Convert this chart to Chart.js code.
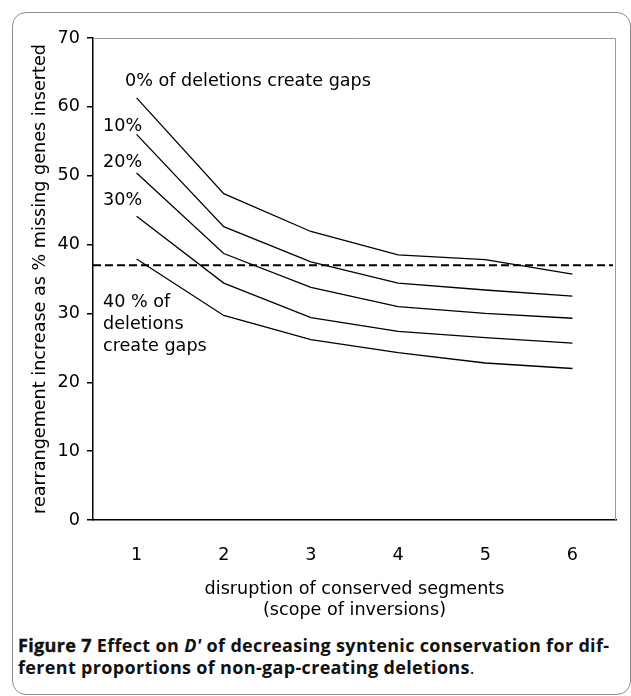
<!DOCTYPE html>
<html>
<head>
<meta charset="utf-8">
<script src="https://cdn.jsdelivr.net/npm/chart.js@4.4.0/dist/chart.umd.min.js"></script>
<style>
  body { margin: 0; background: #fff; }
  #wrap { position: relative; width: 631px; height: 696px; overflow: hidden; }
  #frame { position: absolute; left: 12px; top: 12px; width: 617px; height: 681px;
           border: 1px solid #8c8c8c; border-radius: 14px; }
  #chart { position: absolute; left: 0; top: 0; }
  #caption { position: absolute; left: 18px; top: 634px; width: 610px;
             font-family: "Open Sans", sans-serif; font-size: 18px; font-weight: 700;
             line-height: 22px; color: #111; letter-spacing: 0.33px; white-space: nowrap; }
  #caption b { font-weight: 700; -webkit-text-stroke: 0.4px #111; }
  #caption .end { font-weight: 400; }
</style>
</head>
<body>
<div id="wrap">
  <div id="frame"></div>
  <canvas id="chart" width="631" height="630"></canvas>
  <div id="caption"><b>Figure 7</b> Effect on <i>D'</i> of decreasing syntenic conservation for dif-<br>ferent proportions of non-gap-creating deletions<span class="end">.</span></div>
</div>
<script>
// data
var categories = ["1", "2", "3", "4", "5", "6"];
var gap0 = [61.3, 47.4, 41.9, 38.5, 37.8, 35.7];
var gap10 = [56.0, 42.6, 37.5, 34.4, 33.4, 32.5];
var gap20 = [50.4, 38.7, 33.8, 31.0, 30.0, 29.3];
var gap30 = [44.1, 34.4, 29.4, 27.4, 26.5, 25.7];
var gap40 = [37.9, 29.7, 26.2, 24.3, 22.8, 22.0];
var threshold = 37;
var yTicks = [0, 10, 20, 30, 40, 50, 60, 70];
var seriesLabels = ["0% of deletions create gaps", "10%", "20%", "30%"];
var lastLabel = ["40 % of", "deletions", "create gaps"];

var font = "DejaVu Sans";
var size = 17.6;

// grey frame on top / right of the plot, dashed line, curve labels
var extras = {
  id: "extras",
  afterDraw: function(chart) {
    var c = chart.ctx;
    var a = chart.chartArea;
    var y = chart.scales.y;
    c.save();
    c.strokeStyle = "#9a9a9a";
    c.lineWidth = 1;
    c.beginPath();
    c.moveTo(a.left, a.top + 0.5);
    c.lineTo(a.right - 0.5, a.top + 0.5);
    c.lineTo(a.right - 0.5, a.bottom);
    c.stroke();

    c.strokeStyle = "#000";
    c.lineWidth = 2;
    c.setLineDash([8, 4]);
    var ty = y.getPixelForValue(threshold);
    c.beginPath();
    c.moveTo(a.left, ty);
    c.lineTo(a.right - 3, ty);
    c.stroke();
    c.setLineDash([]);

    c.fillStyle = "#000";
    c.font = size + "px '" + font + "'";
    c.textBaseline = "alphabetic";
    c.textAlign = "left";
    c.fillText(seriesLabels[0], a.left + 32, 86);
    c.fillText(seriesLabels[1], a.left + 10, 131);
    c.fillText(seriesLabels[2], a.left + 10, 167);
    c.fillText(seriesLabels[3], a.left + 10, 205);
    for (var i = 0; i < lastLabel.length; i++) {
      c.fillText(lastLabel[i], a.left + 10, 307 + i * 22);
    }
    c.restore();
  }
};

function line(d) {
  return { data: d, borderColor: "#000", borderWidth: 1.3, pointRadius: 0, tension: 0, fill: false };
}

new Chart(document.getElementById("chart"), {
  type: "line",
  data: {
    labels: categories,
    datasets: [line(gap0), line(gap10), line(gap20), line(gap30), line(gap40)]
  },
  options: {
    responsive: false,
    animation: false,
    layout: { padding: { top: 38, right: 15, left: 0, bottom: 0 } },
    plugins: { legend: { display: false }, tooltip: { enabled: false } },
    scales: {
      x: {
        type: "category",
        offset: true,
        grid: { display: false },
        border: { display: true, color: "#000", width: 1.5 },
        ticks: { color: "#000", padding: 17, font: { family: font, size: size } },
        title: {
          display: true,
          text: ["disruption of conserved segments", "(scope of inversions)"],
          color: "#000",
          font: { family: font, size: size, lineHeight: 1.2 },
          padding: { top: 4, bottom: 9 }
        },
        afterFit: function(s) { s.height = 110; }
      },
      y: {
        min: 0,
        max: 70,
        afterBuildTicks: function(s) { s.ticks = yTicks.map(function(v) { return { value: v }; }); },
        grid: { drawOnChartArea: false, drawTicks: true, tickLength: 6, color: "#000", lineWidth: 1.5 },
        border: { display: true, color: "#000", width: 1.5 },
        ticks: { color: "#000", padding: 7, font: { family: font, size: size } },
        title: {
          display: true,
          text: "rearrangement increase as % missing genes inserted",
          color: "#000",
          font: { family: font, size: size },
          padding: { top: 30 }
        },
        afterFit: function(s) { s.width = 93; }
      }
    }
  },
  plugins: [extras]
});
</script>
</body>
</html>
